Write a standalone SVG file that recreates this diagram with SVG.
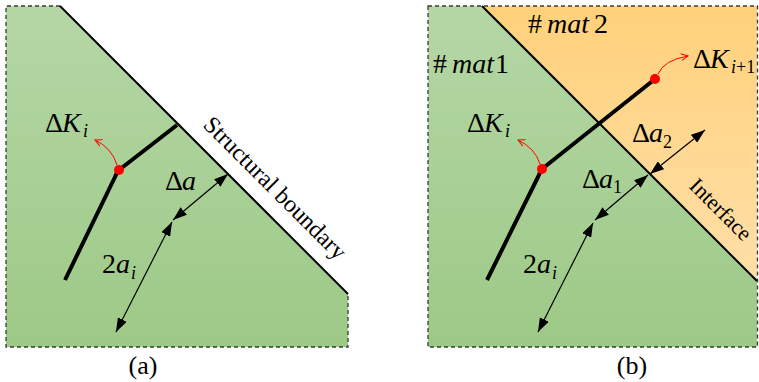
<svg xmlns="http://www.w3.org/2000/svg" width="759" height="382" viewBox="0 0 759 382">
<defs>
<linearGradient id="gGreen" x1="0" y1="6" x2="0" y2="347" gradientUnits="userSpaceOnUse">
<stop offset="0" stop-color="#b5d7a6"/>
<stop offset="1" stop-color="#9dc986"/>
</linearGradient>
<linearGradient id="gOrange" x1="0" y1="6" x2="0" y2="281" gradientUnits="userSpaceOnUse">
<stop offset="0" stop-color="#ffd17b"/>
<stop offset="1" stop-color="#ffdfa8"/>
</linearGradient>
<marker id="tri" viewBox="0 0 14 10" refX="14" refY="5" markerWidth="14" markerHeight="10" markerUnits="userSpaceOnUse" orient="auto-start-reverse">
<path d="M0,0 L14,5 L0,10 z" fill="#000"/>
</marker>
<marker id="redHead" viewBox="0 0 8 8" refX="7" refY="4" markerWidth="8" markerHeight="8" markerUnits="userSpaceOnUse" orient="auto">
<path d="M0,0.5 L7,4 L0,7.5" fill="none" stroke="#ff0000" stroke-width="1"/>
</marker>
<style>
.border{fill:none;stroke:#3a3a3a;stroke-width:1.3;stroke-dasharray:4 3}
.bound{fill:none;stroke:#000;stroke-width:2}
.crack{fill:none;stroke:#000;stroke-width:4;stroke-linejoin:round}
.dim{fill:none;stroke:#000;stroke-width:1.2;marker-start:url(#tri);marker-end:url(#tri)}
.red{fill:none;stroke:#ff0000;stroke-width:1;marker-end:url(#redHead)}
.dot{fill:#ff0000}
.lbl{font-family:"Liberation Serif","Times New Roman",serif;font-size:28px;fill:#000}
.it{font-style:italic}
.sub{font-size:18px}
.cap{font-family:"Liberation Serif","Times New Roman",serif;font-size:26px;fill:#000}
.side{font-family:"Liberation Serif","Times New Roman",serif;font-size:24px;fill:#000}
.side2{font-family:"Liberation Serif","Times New Roman",serif;font-size:22px;fill:#000}
</style>
</defs>

<g id="panel-a">
<g id="a-region">
<path d="M6,6 L60,6 L348,294 L348,347 L6,347 Z" fill="url(#gGreen)"/>
<path class="border" d="M60,6 L6,6 L6,347 L348,347 L348,294"/>
<path class="bound" d="M60,6 L348,294"/>
<text class="side" transform="translate(202,126) rotate(45)">Structural boundary</text>
</g>
<g id="a-crack">
<path class="crack" d="M65,280 L115,177 Q117,172 119,170 L177,125"/>
<path class="red" d="M117,165 Q112,148 95,140"/>
<circle class="dot" cx="119" cy="170" r="5"/>
<text class="lbl" x="45" y="132">Δ<tspan class="it" x="62">K</tspan><tspan class="it sub" x="83" y="137">i</tspan></text>
</g>
<g id="a-dims">
<line class="dim" x1="228" y1="174" x2="173" y2="220"/>
<line class="dim" x1="172" y1="222" x2="116" y2="332"/>
<text class="lbl" x="165" y="190">Δ<tspan class="it" x="182">a</tspan></text>
<text class="lbl" x="102" y="273">2<tspan class="it" x="116">a</tspan><tspan class="it sub" x="131" y="279">i</tspan></text>
</g>
<text class="cap" x="143" y="374" text-anchor="middle">(a)</text>
</g>

<g id="panel-b">
<g id="b-regions">
<path d="M428,6 L482,6 L757,281 L757,347 L428,347 Z" fill="url(#gGreen)"/>
<path d="M482,6 L757,6 L757,281 Z" fill="url(#gOrange)"/>
<rect class="border" x="428" y="6" width="329.5" height="341"/>
<path class="bound" d="M482,6 L757,281"/>
<text class="side2" transform="translate(688,187) rotate(45)">Interface</text>
<text class="lbl" x="528" y="33">#<tspan class="it" x="547">mat</tspan><tspan x="594">2</tspan></text>
<text class="lbl" x="433" y="73">#<tspan class="it" x="452">mat</tspan><tspan x="495">1</tspan></text>
</g>
<g id="b-crack">
<path class="crack" d="M487,280 L538,177 Q540,172 542,169 L655,79"/>
<path class="red" d="M540,164 Q535,148 518,140"/>
<path class="red" d="M658,74 Q664,60 688,56"/>
<circle class="dot" cx="542" cy="169" r="5"/>
<circle class="dot" cx="655" cy="79" r="5"/>
<text class="lbl" x="467" y="132">Δ<tspan class="it" x="484">K</tspan><tspan class="it sub" x="505" y="137">i</tspan></text>
<text class="lbl" x="693" y="68">Δ<tspan class="it" x="710">K</tspan><tspan class="sub" x="731" y="73"><tspan class="it">i</tspan>+1</tspan></text>
</g>
<g id="b-dims">
<line class="dim" x1="705" y1="130" x2="650" y2="174"/>
<line class="dim" x1="648" y1="175" x2="595" y2="220"/>
<line class="dim" x1="593" y1="223" x2="538" y2="332"/>
<text class="lbl" x="632" y="142">Δ<tspan class="it" x="649">a</tspan><tspan class="sub" x="663" y="148">2</tspan></text>
<text class="lbl" x="582" y="188">Δ<tspan class="it" x="599">a</tspan><tspan class="sub" x="613" y="193">1</tspan></text>
<text class="lbl" x="523" y="273">2<tspan class="it" x="537">a</tspan><tspan class="it sub" x="552" y="279">i</tspan></text>
</g>
<text class="cap" x="632" y="374" text-anchor="middle">(b)</text>
</g>
</svg>
